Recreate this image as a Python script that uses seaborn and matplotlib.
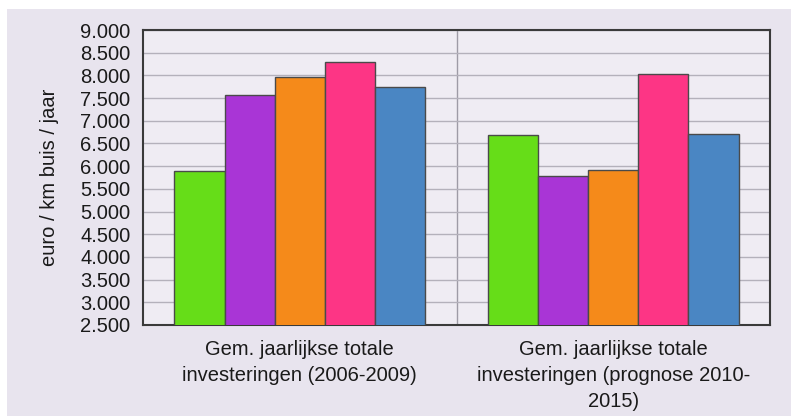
import matplotlib
matplotlib.use("Agg")
import matplotlib.pyplot as plt
import seaborn as sns
import pandas as pd
from matplotlib.patches import Rectangle

# ---- data ----
categories = [
    "Gem. jaarlijkse totale\ninvesteringen (2006-2009)",
    "Gem. jaarlijkse totale\ninvesteringen (prognose 2010-\n2015)",
]
series = ["Reeks 1", "Reeks 2", "Reeks 3", "Reeks 4", "Reeks 5"]
values_2006_2009 = [5900, 7570, 7975, 8300, 7755]
values_2010_2015 = [6690, 5790, 5915, 8025, 6715]
colors = ["#66DD18", "#A935D6", "#F58A1A", "#FD3585", "#4A86C3"]
yticks = [2500, 3000, 3500, 4000, 4500, 5000, 5500, 6000, 6500, 7000, 7500, 8000, 8500, 9000]
ylabel = "euro / km buis / jaar"

rows = []
for cat, vals in zip(categories, [values_2006_2009, values_2010_2015]):
    for s, v in zip(series, vals):
        rows.append({"categorie": cat, "reeks": s, "waarde": v})
df = pd.DataFrame(rows)

sns.set_theme(style="white")
plt.rcParams["font.family"] = ["Liberation Sans", "DejaVu Sans"]

fig = plt.figure(figsize=(7.91, 4.16), dpi=100)
fig.patch.set_facecolor("white")
fig.patches.append(Rectangle((7 / 791, 0), 1 - 7 / 791, 1 - 9 / 416,
                             transform=fig.transFigure, facecolor="#E8E4EE",
                             edgecolor="none", zorder=-10))

ax = fig.add_axes([143 / 791, 1 - 325 / 416, (770 - 143) / 791, (325 - 30) / 416])
ax.set_facecolor("#EFECF3")

sns.barplot(data=df, x="categorie", y="waarde", hue="reeks", palette=colors,
            order=categories, hue_order=series, width=0.8, saturation=1,
            edgecolor="#4a4a4a", linewidth=1.0, legend=False, ax=ax, zorder=3)

ax.set_ylim(2500, 9000)
ax.set_xlim(-0.5, 1.5)
ax.set_yticks(yticks)
ax.set_yticklabels([f"{v:,}".replace(",", ".") for v in yticks], fontsize=14.5, color="#1a1a1a")
ax.tick_params(axis="y", length=0, pad=9)
ax.tick_params(axis="x", length=0, pad=11, labelsize=14.5, labelcolor="#1a1a1a")
for lbl in ax.get_xticklabels():
    lbl.set_linespacing(1.45)
    lbl.set_horizontalalignment("center")

ax.set_axisbelow(True)
ax.yaxis.grid(True, color="#B4B1BB", linewidth=1.0, zorder=0)
ax.axvline(0.5, color="#9E9BA6", linewidth=1.0, zorder=0)

for sp in ax.spines.values():
    sp.set_visible(True)
    sp.set_color("#3a3a3a")
    sp.set_linewidth(1.5)

ax.set_xlabel("")
ax.set_ylabel(ylabel, fontsize=14.5, color="#1a1a1a")
ax.yaxis.set_label_coords(-0.134, 0.5)

fig.savefig("out.png", dpi=100)
